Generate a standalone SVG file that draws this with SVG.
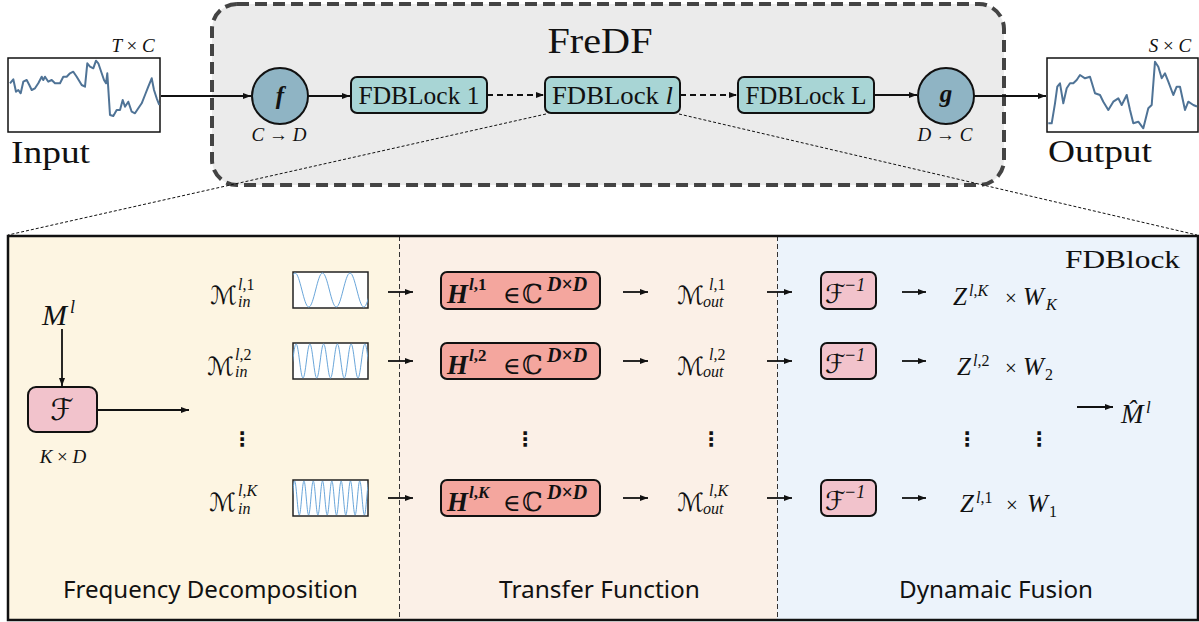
<svg xmlns="http://www.w3.org/2000/svg" width="1199" height="622" viewBox="0 0 1199 622">
<style>
.i{font-style:italic}
.n{font-style:normal}
.b{font-weight:bold}
.ln{stroke:#111;stroke-width:1.8;fill:none}
.dl{stroke:#111;stroke-width:1.8;fill:none;stroke-dasharray:6 4}
.zl{stroke:#111;stroke-width:1;fill:none;stroke-dasharray:3 2}
.sa{stroke:#111;stroke-width:1.8;fill:none}
.blk{fill:#a8d5d5;stroke:#111;stroke-width:2}
.circ{fill:#8fb4c4;stroke:#111;stroke-width:2}
.fb{fill:#f2c3cc;stroke:#111;stroke-width:2}
.hb{fill:#f4a69e;stroke:#111;stroke-width:2}
.wb{fill:#fff;stroke:#222;stroke-width:1.5}
.wv{fill:none;stroke:#6aa6da;stroke-width:1}
.ts{fill:none;stroke:#4f7396;stroke-width:2;stroke-linejoin:round}
text{fill:#111}
</style>
<defs>
<marker id="ah" viewBox="0 0 8 6" refX="8" refY="3" markerWidth="8" markerHeight="6" markerUnits="userSpaceOnUse" orient="auto"><path d="M0,0 L8,3 L0,6 Z" fill="#111"/></marker>
<clipPath id="c1"><rect x="293" y="272" width="75" height="36"/></clipPath>
<clipPath id="c2"><rect x="293" y="343" width="75" height="36"/></clipPath>
<clipPath id="c3"><rect x="293" y="480" width="75" height="36"/></clipPath>
</defs>

<g font-family="Liberation Serif, DejaVu Serif, serif">

<g id="fredf">
<rect x="212" y="4" width="792" height="181" rx="25" fill="#ebebeb" stroke="#444" stroke-width="4" stroke-dasharray="12 6"/>
<text x="600" y="53" font-size="35" text-anchor="middle" textLength="105" lengthAdjust="spacingAndGlyphs">FreDF</text>
</g>

<g id="fdblock-panel">
<rect x="8" y="236" width="391" height="384" fill="#fdf5e2"/>
<rect x="399" y="236" width="378" height="384" fill="#fbf0e7"/>
<rect x="777" y="236" width="421" height="384" fill="#ecf3fb"/>
<line x1="399.5" y1="236" x2="399.5" y2="620" stroke="#333" stroke-width="1" stroke-dasharray="5 3"/>
<line x1="777.5" y1="236" x2="777.5" y2="620" stroke="#333" stroke-width="1" stroke-dasharray="5 3"/>
<rect x="8" y="236" width="1190" height="384" fill="none" stroke="#111" stroke-width="2.5"/>
<text x="1180" y="268" font-size="26" text-anchor="end" textLength="115" lengthAdjust="spacingAndGlyphs">FDBlock</text>
<g font-family="Noto Sans, Open Sans, sans-serif" font-size="23">
<text x="210.5" y="598" text-anchor="middle" textLength="295" lengthAdjust="spacingAndGlyphs">Frequency Decomposition</text>
<text x="599.5" y="598" text-anchor="middle" textLength="201" lengthAdjust="spacingAndGlyphs">Transfer Function</text>
<text x="996" y="598" text-anchor="middle" textLength="194" lengthAdjust="spacingAndGlyphs">Dynamaic Fusion</text>
</g>
</g>

<g id="input">
<rect x="8" y="58" width="152" height="74" fill="#fff" stroke="#111" stroke-width="1.5"/>
<polyline class="ts" points="10,83.3 13.3,79.3 16,91.7 18.3,90 20.7,93.3 23.3,81.7 26.7,80 29.3,85 31.7,90 35,88.3 38.3,83.3 41.7,76.7 43.3,80 45,76.7 48.3,81.7 51.7,80 55,83.3 60,83.3 63.3,76.7 66.7,76.7 70,73.3 73.3,71.7 76.7,76.7 81.7,85 85,86.7 87.3,63.3 90,66.7 93.3,68.3 96,60.7 98.3,63.3 101.7,73.3 104,80 106,83.3 107.3,73.3 110,115 113.3,116 116.7,110 120,110 122.7,100 125,106.7 128.3,101.7 131.7,111.7 135,113.3 138.3,108.3 141.7,103.3 145,95 148.3,86.7 151.7,78.3 154,90 156.7,98.3 159.3,105"/>
<text x="133" y="52" class="i" font-size="19" text-anchor="middle">T <tspan class="n">×</tspan> C</text>
<text x="11" y="163" font-size="31" textLength="79" lengthAdjust="spacingAndGlyphs">Input</text>
</g>

<g id="f-node">
<circle cx="280" cy="96" r="28" class="circ"/>
<text x="280" y="104" class="i b" font-size="25" text-anchor="middle">f</text>
<text x="279" y="141" class="i" font-size="19" text-anchor="middle">C <tspan class="n">→</tspan> D</text>
</g>

<g id="fdb1">
<rect x="351" y="77" width="136" height="36" rx="6" class="blk"/>
<text x="419" y="104" font-size="25" text-anchor="middle" textLength="121" lengthAdjust="spacingAndGlyphs">FDBLock 1</text>
</g>
<g id="fdbl">
<rect x="545" y="77" width="135" height="36" rx="6" class="blk"/>
<text x="612.5" y="104" font-size="25" text-anchor="middle" textLength="121" lengthAdjust="spacingAndGlyphs">FDBLock <tspan class="i">l</tspan></text>
</g>
<g id="fdbL">
<rect x="738" y="77" width="136" height="36" rx="6" class="blk"/>
<text x="806" y="104" font-size="25" text-anchor="middle" textLength="121" lengthAdjust="spacingAndGlyphs">FDBLock L</text>
</g>

<g id="g-node">
<circle cx="946" cy="96" r="28" class="circ"/>
<text x="946" y="102" class="i b" font-size="25" text-anchor="middle">g</text>
<text x="945" y="141" class="i" font-size="19" text-anchor="middle">D <tspan class="n">→</tspan> C</text>
</g>

<g id="output">
<rect x="1047" y="58" width="151" height="74" fill="#fff" stroke="#111" stroke-width="1.5"/>
<polyline class="ts" points="1048.3,123.3 1051.7,123.3 1055,103.3 1057.3,86.7 1060,83.3 1063.3,103.3 1066.7,88.3 1070,83.3 1073.3,83.3 1076.7,80 1080,75 1085,78.3 1090,76.7 1095,93.3 1100,95 1103.3,101.7 1108.3,110 1113.3,101.7 1118.3,98.3 1121.7,105 1126.7,95 1130,110 1133.3,123.3 1138.3,121.7 1143.3,128.3 1148.3,108.3 1151.7,105 1155,61.7 1158.3,66.7 1161.7,78.3 1165,73.3 1168.3,81.7 1173.3,95 1176.7,86.7 1180,86.7 1185,110 1188.3,101.7 1193.3,105 1197,106.5"/>
<text x="1170" y="52" class="i" font-size="19" text-anchor="middle">S <tspan class="n">×</tspan> C</text>
<text x="1048" y="162" font-size="31" textLength="104" lengthAdjust="spacingAndGlyphs">Output</text>
</g>

<g id="ml-input">
<text x="42" y="325" class="i" font-size="30">M<tspan x="70" y="313" font-size="18">l</tspan></text>
</g>
<g id="fourier">
<rect x="28" y="387" width="69" height="45" rx="8" class="fb"/>
<text x="62" y="420" font-family="DejaVu Serif, DejaVu Sans, serif" font-size="30" text-anchor="middle">ℱ</text>
<text x="63" y="463" class="i" font-size="19" text-anchor="middle">K <tspan class="n">×</tspan> D</text>
</g>

<g id="min-1">
<text y="304" font-size="25"><tspan x="210" font-family="DejaVu Serif, DejaVu Sans, serif">ℳ</tspan><tspan x="238" y="290" font-size="16" class="i">l<tspan class="n">,1</tspan></tspan><tspan x="238" y="307" font-size="16" class="i">in</tspan></text>
<rect x="293" y="272" width="75" height="36" class="wb"/>
<path class="wv" clip-path="url(#c1)" d="M281.25,307 C286.25,307 290,273 295,273 S303.75,307 308.75,307 S317.5,273 322.5,273 S331.25,307 336.25,307 S345,273 350,273 S358.75,307 363.75,307 S372.5,273 377.5,273"/>
</g>
<g id="min-2">
<text y="375" font-size="25"><tspan x="207" font-family="DejaVu Serif, DejaVu Sans, serif">ℳ</tspan><tspan x="235" y="360" font-size="16" class="i">l<tspan class="n">,2</tspan></tspan><tspan x="235" y="377" font-size="16" class="i">in</tspan></text>
<rect x="293" y="343" width="75" height="36" class="wb"/>
<path class="wv" clip-path="url(#c2)" d="M289.25,378 C291.75,378 293.625,344 296.125,344 S300.5,378 303,378 S307.375,344 309.875,344 S314.25,378 316.75,378 S321.125,344 323.625,344 S328,378 330.5,378 S334.875,344 337.375,344 S341.75,378 344.25,378 S348.625,344 351.125,344 S355.5,378 358,378 S362.375,344 364.875,344 S369.25,378 371.75,378"/>
</g>
<g id="min-k">
<text y="511" font-size="25"><tspan x="209" font-family="DejaVu Serif, DejaVu Sans, serif">ℳ</tspan><tspan x="238" y="496" font-size="16" class="i">l<tspan class="n">,</tspan>K</tspan><tspan x="238" y="514" font-size="16" class="i">in</tspan></text>
<rect x="293" y="480" width="75" height="36" class="wb"/>
<path class="wv" clip-path="url(#c3)" d="M290,515 C291.7,515 292.95,481 294.65,481 S297.6,515 299.3,515 S302.25,481 303.95,481 S306.9,515 308.6,515 S311.55,481 313.25,481 S316.2,515 317.9,515 S320.85,481 322.55,481 S325.5,515 327.2,515 S330.15,481 331.85,481 S334.8,515 336.5,515 S339.45,481 341.15,481 S344.1,515 345.8,515 S348.75,481 350.45,481 S353.4,515 355.1,515 S358.05,481 359.75,481 S362.7,515 364.4,515 S367.35,481 369.05,481"/>
</g>

<g id="h-1">
<rect x="441" y="272" width="159" height="37" rx="6" class="hb"/>
<text y="303" class="i b" font-size="27"><tspan x="447">H</tspan><tspan x="469" y="290" font-size="17">l<tspan class="n">,1</tspan></tspan><tspan x="503" y="303" class="n" font-weight="normal" font-size="24">∈</tspan><tspan x="522" font-family="DejaVu Serif, DejaVu Sans, serif" class="n" font-weight="normal" font-size="26">ℂ</tspan><tspan x="547" y="291" font-size="20">D<tspan class="n">×</tspan>D</tspan></text>
</g>
<g id="h-2">
<rect x="441" y="343" width="159" height="36" rx="6" class="hb"/>
<text y="374" class="i b" font-size="27"><tspan x="447">H</tspan><tspan x="469" y="361" font-size="17">l<tspan class="n">,2</tspan></tspan><tspan x="503" y="374" class="n" font-weight="normal" font-size="24">∈</tspan><tspan x="522" font-family="DejaVu Serif, DejaVu Sans, serif" class="n" font-weight="normal" font-size="26">ℂ</tspan><tspan x="547" y="362" font-size="20">D<tspan class="n">×</tspan>D</tspan></text>
</g>
<g id="h-k">
<rect x="441" y="480" width="159" height="36" rx="6" class="hb"/>
<text y="511" class="i b" font-size="27"><tspan x="447">H</tspan><tspan x="469" y="498" font-size="17">l<tspan class="n">,</tspan>K</tspan><tspan x="503" y="511" class="n" font-weight="normal" font-size="24">∈</tspan><tspan x="522" font-family="DejaVu Serif, DejaVu Sans, serif" class="n" font-weight="normal" font-size="26">ℂ</tspan><tspan x="547" y="499" font-size="20">D<tspan class="n">×</tspan>D</tspan></text>
</g>

<g id="mout-1">
<text y="304" font-size="25"><tspan x="677" font-family="DejaVu Serif, DejaVu Sans, serif">ℳ</tspan><tspan x="709" y="290" font-size="16" class="i">l<tspan class="n">,1</tspan></tspan><tspan x="703" y="307" font-size="16" class="i">out</tspan></text>
</g>
<g id="mout-2">
<text y="375" font-size="25"><tspan x="677" font-family="DejaVu Serif, DejaVu Sans, serif">ℳ</tspan><tspan x="709" y="360" font-size="16" class="i">l<tspan class="n">,2</tspan></tspan><tspan x="703" y="377" font-size="16" class="i">out</tspan></text>
</g>
<g id="mout-k">
<text y="511" font-size="25"><tspan x="677" font-family="DejaVu Serif, DejaVu Sans, serif">ℳ</tspan><tspan x="709" y="496" font-size="16" class="i">l<tspan class="n">,</tspan>K</tspan><tspan x="703" y="514" font-size="16" class="i">out</tspan></text>
</g>

<g id="finv-1">
<rect x="821" y="272" width="55" height="37" rx="6" class="fb"/>
<text y="303" font-size="26"><tspan x="825" font-family="DejaVu Serif, DejaVu Sans, serif">ℱ</tspan><tspan x="844" y="291" font-size="18" class="i">−1</tspan></text>
</g>
<g id="finv-2">
<rect x="821" y="343" width="55" height="36" rx="6" class="fb"/>
<text y="373" font-size="26"><tspan x="825" font-family="DejaVu Serif, DejaVu Sans, serif">ℱ</tspan><tspan x="844" y="361" font-size="18" class="i">−1</tspan></text>
</g>
<g id="finv-k">
<rect x="821" y="480" width="55" height="36" rx="6" class="fb"/>
<text y="510" font-size="26"><tspan x="825" font-family="DejaVu Serif, DejaVu Sans, serif">ℱ</tspan><tspan x="844" y="498" font-size="18" class="i">−1</tspan></text>
</g>

<g id="z-1">
<text y="305" class="i" font-size="25"><tspan x="953">Z</tspan><tspan x="969" y="296" font-size="16">l<tspan class="n">,</tspan>K</tspan><tspan x="1005" y="305" class="n" font-size="21">×</tspan><tspan x="1023">W</tspan><tspan x="1046" y="310" font-size="16">K</tspan></text>
</g>
<g id="z-2">
<text y="375" class="i" font-size="25"><tspan x="957">Z</tspan><tspan x="973" y="366" font-size="16">l<tspan class="n">,2</tspan></tspan><tspan x="1005" y="375" class="n" font-size="21">×</tspan><tspan x="1023">W</tspan><tspan x="1045" y="380" class="n" font-size="16">2</tspan></text>
</g>
<g id="z-k">
<text y="512" class="i" font-size="25"><tspan x="960">Z</tspan><tspan x="976" y="503" font-size="16">l<tspan class="n">,1</tspan></tspan><tspan x="1006" y="512" class="n" font-size="21">×</tspan><tspan x="1027">W</tspan><tspan x="1049" y="517" class="n" font-size="16">1</tspan></text>
</g>

<g id="mhat">
<text y="423" class="i" font-size="27"><tspan x="1121">M̂</tspan><tspan x="1146" y="413" font-size="17">l</tspan></text>
</g>

<g id="ellipses" font-family="DejaVu Sans, sans-serif" font-size="20" font-weight="bold" text-anchor="middle">
<text x="242" y="446">⋮</text>
<text x="525" y="446">⋮</text>
<text x="711" y="446">⋮</text>
<text x="967" y="446">⋮</text>
<text x="1039" y="446">⋮</text>
</g>
</g>

<g id="connectors">
<line x1="161" y1="96" x2="251" y2="96" class="ln" marker-end="url(#ah)"/>
<line x1="308" y1="96" x2="350" y2="96" class="ln" marker-end="url(#ah)"/>
<line x1="487" y1="95" x2="544" y2="95" class="dl" marker-end="url(#ah)"/>
<line x1="680" y1="95" x2="737" y2="95" class="dl" marker-end="url(#ah)"/>
<line x1="874" y1="95" x2="917" y2="95" class="ln" marker-end="url(#ah)"/>
<line x1="974" y1="96" x2="1046" y2="96" class="ln" marker-end="url(#ah)"/>
<line x1="546" y1="114" x2="8" y2="235" class="zl"/>
<line x1="679" y1="114" x2="1197" y2="235" class="zl"/>
<line x1="62" y1="329" x2="62" y2="386" class="ln" marker-end="url(#ah)"/>
<line x1="97" y1="410" x2="189" y2="410" class="ln" marker-end="url(#ah)"/>
<line x1="388" y1="292" x2="413" y2="292" class="sa" marker-end="url(#ah)"/>
<line x1="388" y1="361" x2="413" y2="361" class="sa" marker-end="url(#ah)"/>
<line x1="388" y1="498" x2="413" y2="498" class="sa" marker-end="url(#ah)"/>
<line x1="623" y1="292" x2="648" y2="292" class="sa" marker-end="url(#ah)"/>
<line x1="623" y1="361" x2="648" y2="361" class="sa" marker-end="url(#ah)"/>
<line x1="623" y1="498" x2="648" y2="498" class="sa" marker-end="url(#ah)"/>
<line x1="767" y1="292" x2="792" y2="292" class="sa" marker-end="url(#ah)"/>
<line x1="767" y1="361" x2="792" y2="361" class="sa" marker-end="url(#ah)"/>
<line x1="767" y1="498" x2="792" y2="498" class="sa" marker-end="url(#ah)"/>
<line x1="902" y1="292" x2="926" y2="292" class="sa" marker-end="url(#ah)"/>
<line x1="902" y1="361" x2="926" y2="361" class="sa" marker-end="url(#ah)"/>
<line x1="902" y1="498" x2="926" y2="498" class="sa" marker-end="url(#ah)"/>
<line x1="1077" y1="407" x2="1113" y2="407" class="sa" marker-end="url(#ah)"/>
</g>
</svg>
